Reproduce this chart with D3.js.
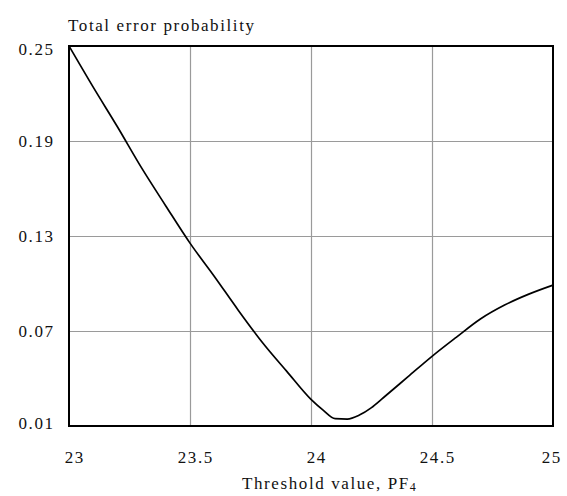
<!DOCTYPE html>
<html>
<head>
<meta charset="utf-8">
<script src="https://cdn.jsdelivr.net/npm/d3@7"></script>
<style>
  body { margin: 0; background: #fff; }
  text { font-family: "Liberation Serif", "Times New Roman", serif; font-size: 17px; letter-spacing: 1.6px; fill: #111; }
</style>
</head>
<body>
<svg id="chart"></svg>
<script>
// values
var thresholds = [23.0, 23.1, 23.2, 23.3, 23.4, 23.5, 23.6, 23.7, 23.8, 23.9, 24.0,
                  24.05, 24.1, 24.15, 24.2, 24.25, 24.3, 24.4, 24.5, 24.6, 24.7, 24.8, 24.9, 25.0];
var errorProb = [0.250, 0.224, 0.199, 0.173, 0.149, 0.1255, 0.1046, 0.083, 0.0626, 0.0445, 0.0268,
                 0.020, 0.0146, 0.0144, 0.0169, 0.0216, 0.028, 0.041, 0.054, 0.066, 0.0776, 0.0864, 0.0933, 0.099];
var xTicks = [23, 23.5, 24, 24.5, 25];
var yTicks = [0.01, 0.07, 0.13, 0.19, 0.25];

var width = 567;
var height = 496;
var margin = { top: 46, right: 14, bottom: 70, left: 69 };

var svg = d3.select("#chart")
  .attr("width", width)
  .attr("height", height);

var x = d3.scaleLinear()
  .domain([23, 25])
  .range([margin.left, width - margin.right]);

var y = d3.scaleLinear()
  .domain([0.01, 0.25])
  .range([height - margin.bottom, margin.top]);

// grid lines
svg.append("g")
  .selectAll("line")
  .data(xTicks.slice(1, -1))
  .enter()
  .append("line")
  .attr("x1", function (d) { return Math.round(x(d)) + 0.5; })
  .attr("x2", function (d) { return Math.round(x(d)) + 0.5; })
  .attr("y1", y(0.25))
  .attr("y2", y(0.01))
  .attr("stroke", "#9a9a9a")
  .attr("stroke-width", 1.2);

svg.append("g")
  .selectAll("line")
  .data(yTicks.slice(1, -1))
  .enter()
  .append("line")
  .attr("y1", function (d) { return Math.round(y(d)) + 0.5; })
  .attr("y2", function (d) { return Math.round(y(d)) + 0.5; })
  .attr("x1", x(23))
  .attr("x2", x(25))
  .attr("stroke", "#9a9a9a")
  .attr("stroke-width", 1.2);

// tick labels
svg.append("g")
  .selectAll("text")
  .data(yTicks)
  .enter()
  .append("text")
  .attr("x", 54.6)
  .attr("y", function (d) { return Math.min(Math.max(y(d) + 5.5, 55), 429); })
  .attr("text-anchor", "end")
  .text(function (d) { return d3.format(".2f")(d); });

svg.append("g")
  .selectAll("text")
  .data(xTicks)
  .enter()
  .append("text")
  .attr("x", function (d) { return Math.min(Math.max(x(d) + 5, 74), 551) + 0.8; })
  .attr("y", 463)
  .attr("text-anchor", "middle")
  .text(function (d) { return d; });

// curve
var line = d3.line()
  .x(function (d, i) { return x(thresholds[i]); })
  .y(function (d) { return y(d); })
  .curve(d3.curveMonotoneX);

svg.append("path")
  .datum(errorProb)
  .attr("d", line)
  .attr("fill", "none")
  .attr("stroke", "#000")
  .attr("stroke-width", 1.7);

// frame
svg.append("rect")
  .attr("x", x(23))
  .attr("y", y(0.25))
  .attr("width", x(25) - x(23))
  .attr("height", y(0.01) - y(0.25))
  .attr("fill", "none")
  .attr("stroke", "#000")
  .attr("stroke-width", 2);

// titles
svg.append("text")
  .attr("x", 68)
  .attr("y", 31)
  .text("Total error probability");

var xl = svg.append("text")
  .attr("x", 242)
  .attr("y", 489);
xl.append("tspan").text("Threshold value, PF");
xl.append("tspan").attr("font-size", "12px").attr("dy", 2).text("4");
</script>
</body>
</html>
